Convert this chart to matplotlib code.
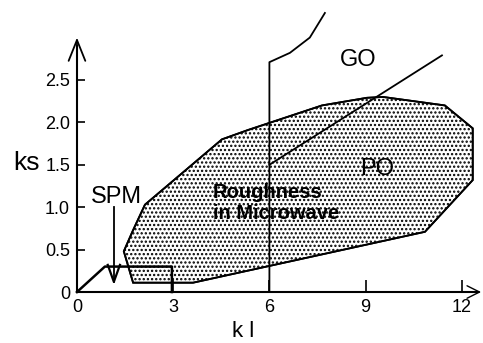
import numpy as np
import matplotlib.pyplot as plt
from matplotlib.patches import Polygon

plt.rcParams['font.family'] = ['Liberation Sans', 'DejaVu Sans']
plt.rcParams['hatch.linewidth'] = 1.1
plt.rcParams['hatch.color'] = 'black'

# region outlines (k l, ks)
po_x = [1.46, 1.75, 3.62, 10.85, 12.34, 12.34, 11.47, 9.54, 9.04, 7.64, 5.33, 4.52, 2.12, 1.75]
po_y = [0.48, 0.11, 0.11, 0.71, 1.32, 1.93, 2.20, 2.30, 2.29, 2.20, 1.91, 1.80, 1.03, 0.73]

# boundary of GO (vertical line at kl=6 then curve)
go_x = [6.0, 6.0, 6.64, 7.26, 7.73]
go_y = [0.0, 2.71, 2.82, 3.00, 3.29]

# GO / PO diagonal
diag_x = [6.0, 11.38]
diag_y = [1.50, 2.79]

# SPM region
spm_x = [0.0, 0.87, 2.96, 2.96]
spm_y = [0.0, 0.30, 0.30, 0.0]

# SPM pointer
ptr_x = [1.15, 1.15]
ptr_y = [1.0, 0.12]
head_x = [0.96, 1.15, 1.34]
head_y = [0.32, 0.12, 0.32]

xticks = [0, 3, 6, 9, 12]
xtick_labels = ['0', '3', '6', '9', '12']
yticks = [0, 0.5, 1.0, 1.5, 2.0, 2.5]
ytick_labels = ['0', '0.5', '1.0', '1.5', '2.0', '2.5']

fig = plt.figure(figsize=(4.83, 3.43), dpi=100)
ax = fig.add_axes([0, 0, 1, 1])
ax.set_xlim(-2.40, 12.66)
ax.set_ylim(-0.601, 3.443)

# dotted area
poly = Polygon(np.column_stack([po_x, po_y]), closed=True, facecolor='white',
               edgecolor='black', hatch='....', lw=1.3, zorder=1)
ax.add_patch(poly)
poly2 = Polygon(np.column_stack([po_x, po_y]), closed=True, fill=False,
                edgecolor='black', lw=1.3, zorder=3)
ax.add_patch(poly2)

ax.plot(go_x, go_y, color='black', lw=1.3, zorder=4)
ax.plot(diag_x, diag_y, color='black', lw=1.3, zorder=4)
ax.plot(spm_x, spm_y, color='black', lw=1.8, zorder=4)
ax.plot(ptr_x, ptr_y, color='black', lw=1.3, zorder=5)
ax.plot(head_x, head_y, color='black', lw=1.6, zorder=5)

# axes
for s in ['top', 'right']:
    ax.spines[s].set_visible(False)
ax.spines['left'].set_position(('data', 0))
ax.spines['bottom'].set_position(('data', 0))
ax.spines['left'].set_bounds(0, 2.9)
ax.spines['bottom'].set_bounds(0, 12.5)
ax.spines['left'].set_linewidth(1.5)
ax.spines['bottom'].set_linewidth(1.5)
ax.annotate('', xy=(0, 3.0), xytext=(0, 2.6),
            arrowprops=dict(arrowstyle='->,head_length=0.75,head_width=0.3',
                            lw=1.3, color='black', mutation_scale=20,
                            shrinkA=0, shrinkB=0))
ax.annotate('', xy=(12.6, 0), xytext=(12.3, 0),
            arrowprops=dict(arrowstyle='->,head_length=0.6,head_width=0.3',
                            lw=1.0, color='black', mutation_scale=15,
                            shrinkA=0, shrinkB=0))

ax.set_xticks(xticks)
ax.set_xticklabels(xtick_labels)
ax.set_yticks(yticks)
ax.set_yticklabels(ytick_labels)
ax.tick_params(axis='x', direction='in', length=9, width=1.2, pad=5, labelsize=13)
ax.tick_params(axis='y', direction='in', length=6, width=1.2, pad=5, labelsize=13)

# labels
ax.text(-1.56, 1.52, 'ks', fontsize=19, ha='center', va='center')
ax.text(5.17, -0.47, 'k l', fontsize=16, ha='center', va='center')
ax.text(1.22, 1.12, 'SPM', fontsize=17, ha='center', va='center')
ax.text(8.76, 2.74, 'GO', fontsize=17, ha='center', va='center')
ax.text(9.35, 1.45, 'PO', fontsize=17, ha='center', va='center', zorder=6)
ax.text(4.24, 1.17, 'Roughness', fontsize=14.5, fontweight='bold', ha='left', va='center', zorder=6)
ax.text(4.24, 0.93, 'in Microwave', fontsize=14.5, fontweight='bold', ha='left', va='center', zorder=6)

fig.savefig('out.png', dpi=100)
